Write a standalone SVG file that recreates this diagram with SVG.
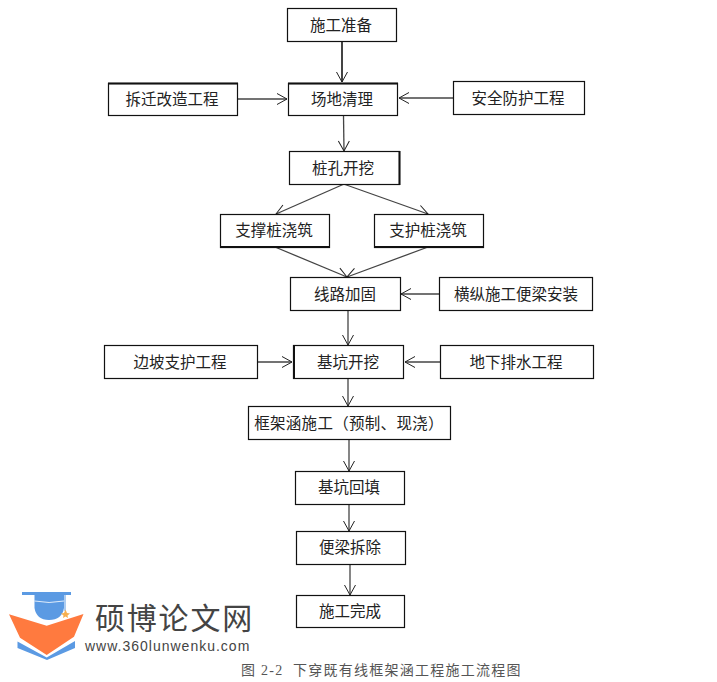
<svg xmlns="http://www.w3.org/2000/svg" width="717" height="682" viewBox="0 0 717 682">
<defs>
<marker id="a" markerUnits="userSpaceOnUse" markerWidth="14" markerHeight="14" refX="11" refY="6" orient="auto" overflow="visible"><path d="M1 0.5L11 6L1 11.5" fill="none" stroke="#222" stroke-width="1"/></marker>
</defs>
<style>
text{font-family:"Noto Sans CJK SC","Liberation Sans",sans-serif}
rect{fill:#fff;stroke:#111;stroke-width:1.2}
.n text{font-size:15.5px;fill:#222;text-anchor:middle}
.c path{fill:none;stroke:#444;stroke-width:1.3;marker-end:url(#a)}
</style>
<rect x="0" y="0" width="717" height="682" style="fill:#fff;stroke:none"/>
<g class="c" id="connectors">
<path d="M342 41V82" style="stroke-width:2"/>
<path d="M238 99H287"/>
<path d="M453 98H399"/>
<path d="M343.500 115.500L344 151"/>
<path d="M343 184.500L276 214"/>
<path d="M345 184.500L428 214"/>
<path d="M275 247L347 277"/>
<path d="M428 247L347 277"/>
<path d="M439 294H401"/>
<path d="M348 310V345"/>
<path d="M258 362H292"/>
<path d="M440 362H405"/>
<path d="M348 378V406"/>
<path d="M349 439V471"/>
<path d="M349 504V531"/>
<path d="M350 565V595"/>
</g>
<g class="n">
<g id="n1"><rect x="287.500" y="8.500" width="109" height="33"/><text x="341" y="31">施工准备</text></g>
<g id="n2"><rect x="288.500" y="83.500" width="109" height="32"/><path d="M288 83.500H398" stroke="#111" stroke-width="2"/><text x="342" y="105">场地清理</text></g>
<g id="n3"><rect x="108.500" y="83.500" width="129" height="32"/><path d="M108 83.500H238" stroke="#111" stroke-width="2"/><text x="172" y="105">拆迁改造工程</text></g>
<g id="n4"><rect x="453.500" y="81.500" width="131" height="33"/><text x="518" y="104">安全防护工程</text></g>
<g id="n5"><rect x="289.500" y="151.500" width="110" height="33"/><path d="M399.500 151V185" stroke="#111" stroke-width="2"/><text x="343" y="174">桩孔开挖</text></g>
<g id="n6"><rect x="220.500" y="214.500" width="109" height="33"/><path d="M220 247H330" stroke="#111" stroke-width="2"/><text x="274" y="236">支撑桩浇筑</text></g>
<g id="n7"><rect x="374.500" y="214.500" width="109" height="33"/><path d="M374 247H484" stroke="#111" stroke-width="2"/><text x="428" y="236">支护桩浇筑</text></g>
<g id="n8"><rect x="290.500" y="277.500" width="110" height="33"/><text x="345" y="300">线路加固</text></g>
<g id="n9"><rect x="439.500" y="277.500" width="153" height="33"/><text x="516" y="300">横纵施工便梁安装</text></g>
<g id="n10"><rect x="293.500" y="345.500" width="110" height="33"/><path d="M294 345V379" stroke="#111" stroke-width="2"/><text x="348" y="368">基坑开挖</text></g>
<g id="n11"><rect x="104.500" y="345.500" width="153" height="33"/><text x="180" y="368">边坡支护工程</text></g>
<g id="n12"><rect x="440.500" y="345.500" width="153" height="33"/><text x="516" y="368">地下排水工程</text></g>
<g id="n13"><rect x="248.500" y="406.500" width="202" height="33"/><text x="349" y="429" letter-spacing=".3">框架涵施工（预制、现浇）</text></g>
<g id="n14"><rect x="295.500" y="471.500" width="109" height="33"/><text x="349" y="493">基坑回填</text></g>
<g id="n15"><rect x="296.500" y="531.500" width="109" height="33"/><text x="350" y="553">便梁拆除</text></g>
<g id="n16"><rect x="296.500" y="595.500" width="108" height="32"/><text x="350" y="617">施工完成</text></g>
</g>
<g id="logo">
<path d="M17.500 641.500L46.700 657.500L75 641V648L47 660L17.500 648Z" fill="#5b9ae3"/>
<path d="M9 614.300L46.700 625.700L83.500 614L74 636.700L46.700 655L20 637.700Z" fill="#ff7a3f"/>
<path d="M34.500 595H64V608Q62 620 49 620Q36.500 620 34.500 608Z" fill="#5b9ae3"/>
<path d="M34.500 601Q49 604 64 601" fill="none" stroke="#fff" stroke-width=".8"/>
<rect x="22" y="592" width="49" height="3" style="fill:#5b9ae3;stroke:none"/>
<path d="M65 595V611" stroke="#5b9ae3" stroke-width="1"/>
<path d="M65.500 609.500L67 613L70 613.500L67.500 615.500L68 618L65.500 616.500L63 618L63.500 615.500L61 613.500L64 613Z" fill="#f6b050"/>
<text x="95" y="629" font-size="30" fill="#444" letter-spacing="1.800">硕博论文网</text>
<text x="85" y="650.500" font-size="14" fill="#444" style="font-family:'Liberation Sans',sans-serif" letter-spacing="1">www.360lunwenku.com</text>
</g>
<text id="caption" x="241" y="675" font-size="14" fill="#555" xml:space="preserve" style="font-family:'Liberation Serif','Noto Sans CJK SC',serif" letter-spacing="1.250">图 2-2  下穿既有线框架涵工程施工流程图</text>
</svg>
